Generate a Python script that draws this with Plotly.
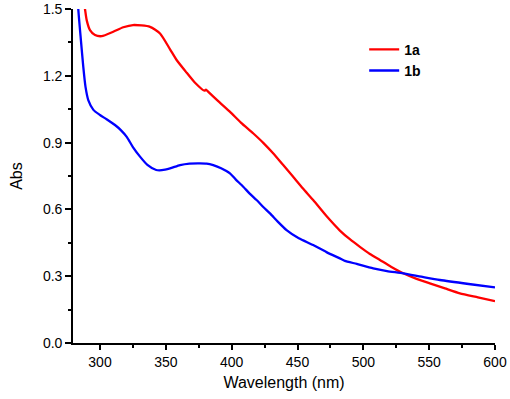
import plotly.graph_objects as go

# Series 1a (red)
wl_1a = [287.0, 288.6, 289.9, 292.4, 296.2, 301.3, 310.1, 317.7, 325.1, 338.0, 345.6, 353.2,
         358.2, 365.0, 372.0, 379.4, 380.5, 381.9, 390.0, 398.6, 407.0, 416.3, 424.0, 431.5,
         439.0, 446.7, 454.0, 461.9, 472.0, 482.2, 490.0, 497.4, 505.0, 512.6, 521.0, 530.3,
         540.0, 550.5, 562.0, 573.3, 587.0, 600.0]
abs_1a = [1.56, 1.50, 1.45, 1.405, 1.383, 1.378, 1.398, 1.418, 1.428, 1.42, 1.39, 1.319,
          1.271, 1.22, 1.17, 1.133, 1.138, 1.130, 1.085, 1.039, 0.99, 0.942, 0.899, 0.852,
          0.80, 0.747, 0.695, 0.642, 0.57, 0.505, 0.465, 0.432, 0.400, 0.373, 0.343, 0.313,
          0.289, 0.268, 0.245, 0.223, 0.205, 0.188]

# Series 1b (blue)
wl_1b = [282.5, 283.5, 285.5, 287.3, 289.0, 291.1, 295.0, 300.0, 305.0, 311.4, 316.0, 320.3,
         325.0, 330.4, 336.0, 342.7, 347.0, 353.2, 360.8, 368.0, 375.9, 381.0, 386.0, 392.0,
         398.7, 403.0, 408.8, 413.5, 418.9, 424.0, 429.1, 435.0, 441.7, 451.0, 461.9, 472.0,
         482.2, 485.0, 486.0, 495.0, 507.5, 518.0, 530.3, 544.0, 558.1, 580.0, 600.0]
abs_1b = [1.62, 1.50, 1.36, 1.241, 1.15, 1.091, 1.047, 1.024, 1.005, 0.979, 0.955, 0.926,
          0.88, 0.837, 0.80, 0.777, 0.776, 0.784, 0.799, 0.806, 0.807, 0.806, 0.799, 0.785,
          0.762, 0.735, 0.702, 0.672, 0.642, 0.611, 0.582, 0.545, 0.507, 0.47, 0.44, 0.408,
          0.380, 0.372, 0.369, 0.355, 0.335, 0.323, 0.313, 0.298, 0.283, 0.265, 0.25]

x_tickvals = [300, 350, 400, 450, 500, 550, 600]
y_tickvals = [0.0, 0.3, 0.6, 0.9, 1.2, 1.5]
y_ticktext = ["0.0", "0.3", "0.6", "0.9", "1.2", "1.5"]

fig = go.Figure()
fig.add_trace(go.Scatter(x=wl_1a, y=abs_1a, mode="lines", name="<b>1a</b>",
                         line=dict(color="#ff0000", width=2.3, shape="spline", smoothing=0.6)))
fig.add_trace(go.Scatter(x=wl_1b, y=abs_1b, mode="lines", name="<b>1b</b>",
                         line=dict(color="#0000ff", width=2.3, shape="spline", smoothing=0.6)))

font_family = "Liberation Sans, Arial, sans-serif"
fig.update_layout(
    width=510, height=399,
    margin=dict(l=73, r=15, t=9, b=56, autoexpand=False),
    paper_bgcolor="white", plot_bgcolor="white",
    font=dict(family=font_family, size=14, color="black"),
    showlegend=True,
    legend=dict(x=0.69, y=0.926, xanchor="left", yanchor="top",
                font=dict(size=14, family=font_family, color="black"),
                bgcolor="rgba(0,0,0,0)", tracegroupgap=0),
    xaxis=dict(range=[279.5, 600], showgrid=False, zeroline=False, automargin=False,
               showline=True, linecolor="black", linewidth=1.6,
               ticks="outside", ticklen=5, tickwidth=1.6, tickcolor="black",
               tickvals=x_tickvals, tickfont=dict(size=14),
               minor=dict(ticks="outside", ticklen=3, tickwidth=1.6, tickcolor="black", dtick=25, tick0=275),
               title=dict(text="Wavelength (nm)", font=dict(size=16), standoff=8)),
    yaxis=dict(range=[0, 1.5], showgrid=False, zeroline=False, automargin=False,
               showline=True, linecolor="black", linewidth=1.6,
               ticks="outside", ticklen=6, tickwidth=1.6, tickcolor="black",
               tickvals=y_tickvals, ticktext=y_ticktext, tickfont=dict(size=14),
               minor=dict(ticks="outside", ticklen=3, tickwidth=1.6, tickcolor="black", dtick=0.15, tick0=0),
               title=dict(text="Abs", font=dict(size=16), standoff=16)),
)

fig.write_html("out.html", config={"displayModeBar": False},
               post_script="document.body.style.margin='0';document.body.style.overflow='hidden';")
